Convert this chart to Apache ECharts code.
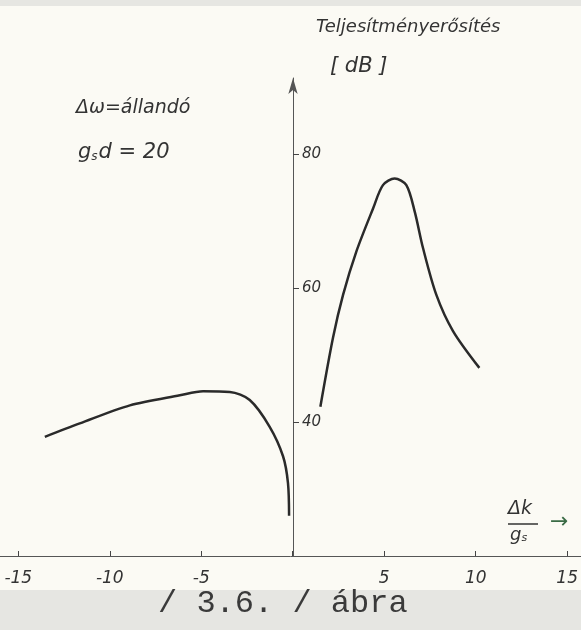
<!DOCTYPE html>
<html>
<head>
<meta charset="utf-8">
<script src="https://cdn.jsdelivr.net/npm/echarts@6/dist/echarts.min.js"></script>
<style>
  html, body { margin: 0; padding: 0; background: #fbfaf4; }
  #main { width: 581px; height: 630px; }
</style>
</head>
<body>
<div id="main"></div>
<script>
// x = Δk/gs, y = teljesítményerősítés [dB]
var leftX = [-13.55, -11.64, -8.9, -6.17, -4.9, -3.44, -2.35, -1.26, -0.53, -0.26, -0.2];
var leftY = [37.8, 39.8, 42.5, 44.0, 44.6, 44.5, 43.3, 39.3, 34.9, 30.9, 26.0];
var rightX = [1.51, 2.2, 2.75, 3.48, 4.39, 4.93, 5.57, 6.21, 6.67, 7.12, 7.85, 8.76, 10.2];
var rightY = [42.3, 52.6, 59.0, 65.5, 71.9, 75.4, 76.4, 75.4, 71.4, 66.0, 59.0, 53.6, 48.1];
var xTickLabels = [-15, -10, -5, 5, 10, 15];
var xTicks = [-15, -10, -5, 0, 5, 10, 15];
var yTickLabels = [40, 60, 80];

function pairs(xs, ys) {
  return xs.map(function (x, i) { return [x, ys[i]]; });
}

var hand = "'DejaVu Sans', sans-serif";
var ink = '#2a2a2a';

var myChart = echarts.init(document.getElementById('main'));
myChart.setOption({
  backgroundColor: '#fbfaf4',
  animation: false,
  grid: { left: 0, right: 0, top: 78, bottom: 74 },
  xAxis: {
    type: 'value',
    min: -16,
    max: 15.74,
    splitLine: { show: false },
    axisLine: { lineStyle: { color: '#555', width: 1 } },
    axisTick: { customValues: xTicks, inside: true, length: 5, lineStyle: { color: '#444' } },
    axisLabel: {
      customValues: xTickLabels,
      margin: 14,
      color: '#333',
      fontSize: 17,
      fontStyle: 'italic',
      fontFamily: hand
    }
  },
  yAxis: {
    type: 'value',
    min: 20,
    max: 91.4,
    // x = 0 lies 293 px right of the grid's left edge
    offset: -293,
    splitLine: { show: false },
    axisLine: {
      onZero: false,
      symbol: ['none', 'arrow'],
      symbolSize: [7, 16],
      lineStyle: { color: '#555', width: 1 }
    },
    axisTick: { customValues: yTickLabels, inside: true, length: 6, lineStyle: { color: '#444' } },
    axisLabel: {
      customValues: yTickLabels,
      inside: true,
      margin: 9,
      color: '#333',
      fontSize: 15,
      fontStyle: 'italic',
      fontFamily: hand
    }
  },
  series: [{
    type: 'line',
    data: pairs(leftX, leftY),
    smooth: 0.3,
    symbol: 'none',
    lineStyle: { color: ink, width: 2.5 }
  }, {
    type: 'line',
    data: pairs(rightX, rightY),
    smooth: 0.3,
    symbol: 'none',
    lineStyle: { color: ink, width: 2.5 }
  }],
  graphic: [
    { type: 'rect', z: -10, shape: { x: 0, y: 590, width: 581, height: 40 }, style: { fill: '#e6e6e2' }, silent: true },
    { type: 'rect', z: -10, shape: { x: 0, y: 0, width: 581, height: 6 }, style: { fill: '#e6e6e2' }, silent: true },
    { type: 'text', left: 316, top: 18, style: { text: 'Teljesítményerősítés', fill: '#333', fontSize: 18, fontStyle: 'italic', fontFamily: hand } },
    { type: 'text', left: 330, top: 56, style: { text: '[ dB ]', fill: '#333', fontSize: 21, fontStyle: 'italic', fontFamily: hand } },
    { type: 'text', left: 76, top: 99, style: { text: 'Δω=állandó', fill: '#333', fontSize: 19, fontStyle: 'italic', fontFamily: hand } },
    { type: 'text', left: 78, top: 142, style: {
      text: '{a|g}{s|s}{a|d = 20}',
      rich: {
        a: { fill: '#333', fontSize: 21, fontStyle: 'italic', fontFamily: hand, verticalAlign: 'bottom' },
        s: { fill: '#333', fontSize: 12, fontStyle: 'italic', fontFamily: hand, verticalAlign: 'bottom', padding: [0, 1, 0, 0] }
      }
    } },
    { type: 'text', left: 508, top: 500, style: { text: 'Δk', fill: '#333', fontSize: 19, fontStyle: 'italic', fontFamily: hand } },
    { type: 'line', shape: { x1: 508, y1: 524, x2: 538, y2: 524 }, style: { stroke: '#333', lineWidth: 1.5 } },
    { type: 'text', left: 510, top: 526, style: {
      text: '{a|g}{s|s}',
      rich: {
        a: { fill: '#333', fontSize: 18, fontStyle: 'italic', fontFamily: hand, verticalAlign: 'bottom' },
        s: { fill: '#333', fontSize: 11, fontStyle: 'italic', fontFamily: hand, verticalAlign: 'bottom' }
      }
    } },
    { type: 'text', left: 550, top: 511, style: { text: '→', fill: '#3a6b45', fontSize: 22, fontFamily: hand } },
    { type: 'text', left: 158, top: 588, style: { text: '/ 3.6. / ábra', fill: '#3a3a3a', fontSize: 32, fontFamily: "'Liberation Mono', 'DejaVu Sans Mono', monospace" } }
  ]
});
</script>
</body>
</html>
